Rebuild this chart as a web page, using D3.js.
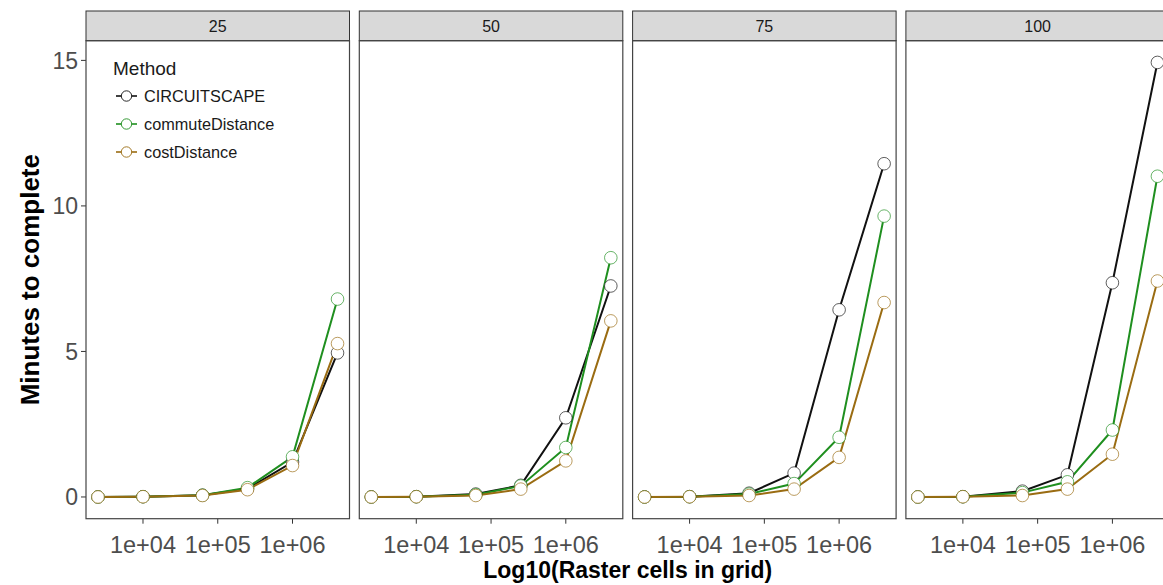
<!DOCTYPE html>
<html>
<head>
<meta charset="utf-8">
<script src="https://cdn.jsdelivr.net/npm/d3@7"></script>
<style>
body { margin: 0; background: #fff; }
svg { display: block; font-family: "Liberation Sans", Arial, sans-serif; }
</style>
</head>
<body>
<svg width="1163" height="585"></svg>
<script>
// facets = some resolution setting, one panel each
var facets = ["25", "50", "75", "100"];
var cells = [2500, 10000, 62500, 250000, 1000000, 4000000];
var methods = ["CIRCUITSCAPE", "commuteDistance", "costDistance"];
var colors = ["#111111", "#1f8f1f", "#9a6c12"];

// minutes, one row per facet
var circuitscape = [
    [0, 0.01, 0.06, 0.28, 1.2, 4.95],
    [0, 0.01, 0.1, 0.4, 2.72, 7.25],
    [0, 0.01, 0.13, 0.82, 6.43, 11.45],
    [0, 0.01, 0.2, 0.76, 7.36, 14.93]
];
var commuteDistance = [
    [0, 0.01, 0.06, 0.32, 1.38, 6.8],
    [0, 0.01, 0.08, 0.38, 1.7, 8.22],
    [0, 0.01, 0.1, 0.46, 2.05, 9.65],
    [0, 0.01, 0.15, 0.52, 2.3, 11.02]
];
var costDistance = [
    [0, 0.01, 0.05, 0.25, 1.08, 5.27],
    [0, 0.01, 0.05, 0.27, 1.24, 6.05],
    [0, 0.01, 0.05, 0.27, 1.36, 6.68],
    [0, 0.01, 0.05, 0.27, 1.47, 7.42]
];
var xTicks = [1e4, 1e5, 1e6];
var yTicks = [0, 5, 10, 15];

var series = [circuitscape, commuteDistance, costDistance];

var svg = d3.select("svg");
var panelLeft = 86, panelW = 263.5, gap = 9.8;
var stripTop = 11, panelTop = 40.7, panelBottom = 518.7;

// ggplot-like 5% expansion
var lx = d3.extent(cells).map(Math.log10);
var dx = (lx[1] - lx[0]) * 0.05;
var maxY = d3.max(series, s => d3.max(s, r => d3.max(r)));
var dy = maxY * 0.05;

var y = d3.scaleLinear().domain([-dy, maxY + dy]).range([panelBottom, panelTop]);

// y axis
var yAxis = svg.append("g");
yTicks.forEach(t => {
    yAxis.append("line")
        .attr("x1", panelLeft - 5).attr("x2", panelLeft)
        .attr("y1", y(t)).attr("y2", y(t))
        .attr("stroke", "#333").attr("stroke-width", 1);
    yAxis.append("text")
        .attr("x", panelLeft - 8).attr("y", y(t))
        .attr("dy", "0.36em")
        .attr("text-anchor", "end")
        .attr("font-size", 23)
        .attr("fill", "#4d4d4d")
        .text(t);
});

facets.forEach((f, fi) => {
    var x0 = panelLeft + fi * (panelW + gap);
    var x = d3.scaleLog()
        .domain([Math.pow(10, lx[0] - dx), Math.pow(10, lx[1] + dx)])
        .range([x0, x0 + panelW]);
    var g = svg.append("g").attr("class", "panel");

    // strip
    g.append("rect")
        .attr("x", x0).attr("y", stripTop)
        .attr("width", panelW).attr("height", panelTop - stripTop)
        .attr("fill", "#d9d9d9").attr("stroke", "#333").attr("stroke-width", 1);
    g.append("text")
        .attr("x", x0 + panelW / 2).attr("y", (stripTop + panelTop) / 2)
        .attr("dy", "0.36em")
        .attr("text-anchor", "middle")
        .attr("font-size", 16)
        .attr("fill", "#1a1a1a")
        .text(f);

    // x ticks
    xTicks.forEach(t => {
        g.append("line")
            .attr("x1", x(t)).attr("x2", x(t))
            .attr("y1", panelBottom).attr("y2", panelBottom + 5)
            .attr("stroke", "#333").attr("stroke-width", 1);
        g.append("text")
            .attr("x", x(t)).attr("y", panelBottom + 34)
            .attr("text-anchor", "middle")
            .attr("font-size", 23.5)
            .attr("fill", "#4d4d4d")
            .text(d3.format(".0e")(t).replace("e+", "e+0"));
    });

    var line = d3.line().x(d => x(d[0])).y(d => y(d[1]));

    series.forEach((s, si) => {
        var pts = cells.map((c, i) => [c, s[fi][i]]);
        g.append("path")
            .datum(pts)
            .attr("d", line)
            .attr("fill", "none")
            .attr("stroke", colors[si])
            .attr("stroke-width", 2);
    });
    series.forEach((s, si) => {
        var pts = cells.map((c, i) => [c, s[fi][i]]);
        g.selectAll("circle.m" + si)
            .data(pts)
            .enter()
            .append("circle")
            .attr("class", "m" + si)
            .attr("cx", d => x(d[0]))
            .attr("cy", d => y(d[1]))
            .attr("r", 6.3)
            .attr("fill", "#fff")
            .attr("stroke", colors[si])
            .attr("stroke-opacity", 0.75)
            .attr("stroke-width", 0.9);
    });

    // panel border
    g.append("rect")
        .attr("x", x0).attr("y", panelTop)
        .attr("width", panelW).attr("height", panelBottom - panelTop)
        .attr("fill", "none").attr("stroke", "#444").attr("stroke-width", 1.2);
});

// legend inside first panel
var legend = svg.append("g").attr("transform", "translate(113,0)");
legend.append("text")
    .attr("x", 0).attr("y", 75)
    .attr("font-size", 19)
    .attr("fill", "#1a1a1a")
    .text("Method");
methods.forEach((m, i) => {
    var ly = 96 + i * 28;
    legend.append("line")
        .attr("x1", 3).attr("x2", 24)
        .attr("y1", ly).attr("y2", ly)
        .attr("stroke", colors[i]).attr("stroke-width", 1.6);
    legend.append("circle")
        .attr("cx", 13.5).attr("cy", ly).attr("r", 5.2)
        .attr("fill", "#fff").attr("stroke", colors[i]).attr("stroke-width", 0.9);
    legend.append("text")
        .attr("x", 31).attr("y", ly)
        .attr("dy", "0.36em")
        .attr("font-size", 16.3)
        .attr("fill", "#1a1a1a")
        .text(m);
});

// axis titles
svg.append("text")
    .attr("transform", `translate(30,${(panelTop + panelBottom) / 2}) rotate(-90)`)
    .attr("text-anchor", "middle")
    .attr("dy", "0.36em")
    .attr("font-size", 26)
    .attr("font-weight", "bold")
    .text("Minutes to complete");
svg.append("text")
    .attr("x", panelLeft + (4 * panelW + 3 * gap) / 2)
    .attr("y", 578)
    .attr("text-anchor", "middle")
    .attr("font-size", 23)
    .attr("font-weight", "bold")
    .text("Log10(Raster cells in grid)");
</script>
</body>
</html>
